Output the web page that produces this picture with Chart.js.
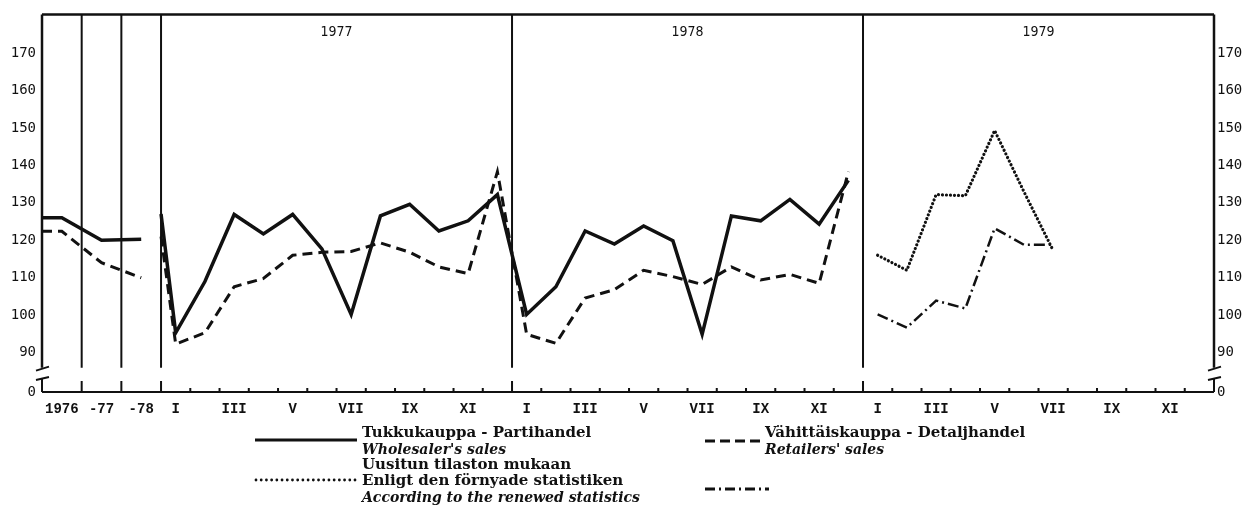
<!DOCTYPE html>
<html>
<head>
<meta charset="utf-8">
<script src="https://cdn.jsdelivr.net/npm/chart.js@4.4.1/dist/chart.umd.min.js"></script>
<style>
  html, body { margin: 0; padding: 0; background: #fff; }
  #wrap { position: relative; width: 1257px; height: 517px; overflow: hidden; }
  #chart { position: absolute; left: 0; top: 0; }
  .lg { position: absolute; font-family: 'DejaVu Serif', serif; font-size: 15px; font-weight: bold; line-height: 16px; color: #111; white-space: nowrap; }
  .it { font-style: italic; font-size: 14px; }
  svg { position: absolute; overflow: visible; }
</style>
</head>
<body>
<div id="wrap">
  <canvas id="chart" width="1257" height="517"></canvas>

  <svg style="left:255px;top:435px" width="102" height="10"><line x1="0" y1="5" x2="102" y2="5" stroke="#111" stroke-width="3"/></svg>
  <svg style="left:255px;top:475px" width="102" height="10"><line x1="1" y1="5" x2="102" y2="5" stroke="#111" stroke-width="2.8" stroke-dasharray="0.01 5.2" stroke-linecap="round"/></svg>
  <svg style="left:705px;top:436px" width="58" height="10"><line x1="0" y1="5" x2="58" y2="5" stroke="#111" stroke-width="2.8" stroke-dasharray="10 5"/></svg>
  <svg style="left:705px;top:484px" width="64" height="10"><line x1="0" y1="5" x2="64" y2="5" stroke="#111" stroke-width="2.8" stroke-dasharray="10 4 2 4"/></svg>

  <div class="lg" style="left:362px;top:424px">Tukkukauppa - Partihandel</div>
  <div class="lg it" style="left:362px;top:441px">Wholesaler's sales</div>
  <div class="lg" style="left:362px;top:456px">Uusitun tilaston mukaan</div>
  <div class="lg" style="left:362px;top:472px">Enligt den förnyade statistiken</div>
  <div class="lg it" style="left:362px;top:489px">According to the renewed statistics</div>
  <div class="lg" style="left:765px;top:424px">Vähittäiskauppa - Detaljhandel</div>
  <div class="lg it" style="left:765px;top:441px">Retailers' sales</div>
</div>

<script>
// annual averages in the narrow columns on the left
var annualLabels = ['1976', '-77', '-78'];
var annualWholesale = [126, 120, 120.3];
var annualRetail = [122.4, 114, 110];

var years = ['1977', '1978', '1979'];
var months = ['I', 'II', 'III', 'IV', 'V', 'VI', 'VII', 'VIII', 'IX', 'X', 'XI', 'XII'];

// value the monthly lines enter the 1977 block with
var carryWholesale = 127;
var carryRetail = 121;

var wholesale1977 = [95.3, 109, 126.9, 121.7, 126.9, 117.7, 100.2, 126.5, 129.6, 122.5, 125.2, 132.2];
var wholesale1978 = [100.2, 107.6, 122.5, 119, 123.8, 119.9, 94.9, 126.5, 125.2, 130.9, 124.3, 136];
var retail1977 = [92.3, 95.3, 107.6, 109.8, 116, 116.8, 117, 119.3, 116.8, 112.9, 111.1, 138.3];
var retail1978 = [94.9, 92.5, 104.6, 106.8, 112, 110.3, 108.2, 112.9, 109.4, 110.9, 108.5, 138.3];

// renewed statistics, 1979
var renewedWholesale1979 = [116, 112, 132.2, 131.9, 149.3, 133, 117.3];
var renewedRetail1979 = [100.2, 96.7, 103.9, 101.8, 123.2, 118.8, 118.8];

var yTicks = [90, 100, 110, 120, 130, 140, 150, 160, 170];

// scale layout (x in month units, 0 = start of 1977)
var xMin = -4.07, xMax = 36;
var colW = -xMin / 3;
var yMin = 79.5, yMax = 180.3, yBreak = 86;

function annualX(i) { return xMin + colW * (i + 0.5); }
function monthX(y, m) { return y * 12 + m + 0.5; }
function monthPts(y, arr) { return arr.map(function (v, m) { return { x: monthX(y, m), y: v }; }); }

function series(annual, carry, a, b) {
    var pts = [{ x: xMin, y: annual[0] }];
    annual.forEach(function (v, i) { pts.push({ x: annualX(i), y: v }); });
    pts.push({ x: -0.3, y: null });
    pts.push({ x: 0, y: carry });
    return pts.concat(monthPts(0, a), monthPts(1, b));
}

var xTicks = [];
annualLabels.forEach(function (l, i) { xTicks.push({ value: annualX(i), label: l }); });
years.forEach(function (yr, y) {
    months.forEach(function (m, i) {
        if (i % 2 === 0) xTicks.push({ value: monthX(y, i), label: m });
    });
});

var separators = [-2 * colW, -colW, 0, 12, 24];
var font = 'DejaVu Sans Mono';

function yAxis(pos, w) {
    return {
        position: pos,
        display: true,
        min: yMin, max: yMax,
        grid: { display: false, drawTicks: false },
        border: { display: false },
        afterBuildTicks: function (s) {
            s.ticks = [{ value: yMin }].concat(yTicks.map(function (v) { return { value: v }; }));
        },
        afterFit: function (s) { s.width = w; },
        ticks: {
            padding: pos === 'left' ? 6 : 3,
            color: '#111',
            font: { family: font, size: 14 },
            callback: function (v, i) { return i === 0 ? '0' : v; }
        }
    };
}

var framePlugin = {
    id: 'frame',
    beforeDatasetsDraw: function (chart) {
        var c = chart.ctx, a = chart.chartArea, xs = chart.scales.x, ys = chart.scales.y;
        var yb = ys.getPixelForValue(yBreak);
        var L = xs.getPixelForValue(xMin), R = xs.getPixelForValue(xMax);
        c.save();
        c.strokeStyle = '#111';
        c.lineWidth = 2.5;
        c.beginPath();
        c.moveTo(L, a.top); c.lineTo(R, a.top);
        c.moveTo(L, a.top); c.lineTo(L, yb);
        c.moveTo(R, a.top); c.lineTo(R, yb);
        c.stroke();
        c.lineWidth = 2;
        c.beginPath();
        separators.forEach(function (v) {
            var x = xs.getPixelForValue(v);
            c.moveTo(x, a.top); c.lineTo(x, yb);
            c.moveTo(x, a.bottom); c.lineTo(x, a.bottom - 11);
        });
        c.moveTo(L, a.bottom); c.lineTo(R, a.bottom);
        c.moveTo(L, a.bottom); c.lineTo(L, a.bottom - 13);
        c.moveTo(R, a.bottom); c.lineTo(R, a.bottom - 13);
        c.stroke();
        // small month ticks
        c.lineWidth = 2;
        c.beginPath();
        for (var m = 1; m < 36; m++) {
            if (m % 12 === 0) continue;
            var x = xs.getPixelForValue(m);
            c.moveTo(x, a.bottom); c.lineTo(x, a.bottom - 4);
        }
        c.stroke();
        // axis breaks
        [L, R].forEach(function (x) {
            c.beginPath();
            c.moveTo(x - 6, yb + 3); c.lineTo(x + 7, yb - 1);
            c.moveTo(x - 6, a.bottom - 12); c.lineTo(x + 7, a.bottom - 15);
            c.stroke();
        });
        // year titles
        c.fillStyle = '#111';
        c.font = '14px "Liberation Sans Narrow", "DejaVu Sans Condensed", sans-serif';
        c.textAlign = 'center';
        c.textBaseline = 'middle';
        years.forEach(function (yr, i) {
            c.fillText(yr, xs.getPixelForValue(i * 12 + 6), a.top + 18);
        });
        c.restore();
    }
};

new Chart(document.getElementById('chart'), {
    type: 'line',
    data: {
        datasets: [
            {
                label: 'Tukkukauppa - Partihandel',
                data: series(annualWholesale, carryWholesale, wholesale1977, wholesale1978),
                borderColor: '#111', borderWidth: 3.5
            },
            {
                label: 'Vähittäiskauppa - Detaljhandel',
                data: series(annualRetail, carryRetail, retail1977, retail1978),
                borderColor: '#111', borderWidth: 3, borderDash: [10, 6]
            },
            {
                label: 'Uusitun tilaston mukaan (tukku)',
                data: monthPts(2, renewedWholesale1979),
                borderColor: '#111', borderWidth: 3.2, borderDash: [0.01, 4], borderCapStyle: 'round'
            },
            {
                label: 'Uusitun tilaston mukaan (vähittäis)',
                data: monthPts(2, renewedRetail1979),
                borderColor: '#111', borderWidth: 2.5, borderDash: [11, 4, 2, 4]
            }
        ]
    },
    options: {
        responsive: false,
        animation: false,
        spanGaps: false,
        layout: { padding: { top: 9, left: 0, right: 0, bottom: 0 } },
        elements: { point: { radius: 0 }, line: { tension: 0 } },
        plugins: { legend: { display: false }, tooltip: { enabled: false } },
        scales: {
            x: {
                type: 'linear',
                min: xMin, max: xMax,
                grid: { display: false, drawTicks: false },
                border: { display: false },
                afterBuildTicks: function (s) {
                    s.ticks = xTicks.map(function (t) { return { value: t.value }; });
                },
                afterFit: function (s) { s.height = 125; },
                ticks: {
                    autoSkip: false, maxRotation: 0, padding: 9,
                    color: '#111',
                    font: { family: 'Liberation Mono', size: 14, weight: 'bold' },
                    callback: function (v, i) { return xTicks[i].label; }
                }
            },
            y: yAxis('left', 42),
            yr: yAxis('right', 43)
        }
    },
    plugins: [framePlugin]
});
</script>
</body>
</html>
